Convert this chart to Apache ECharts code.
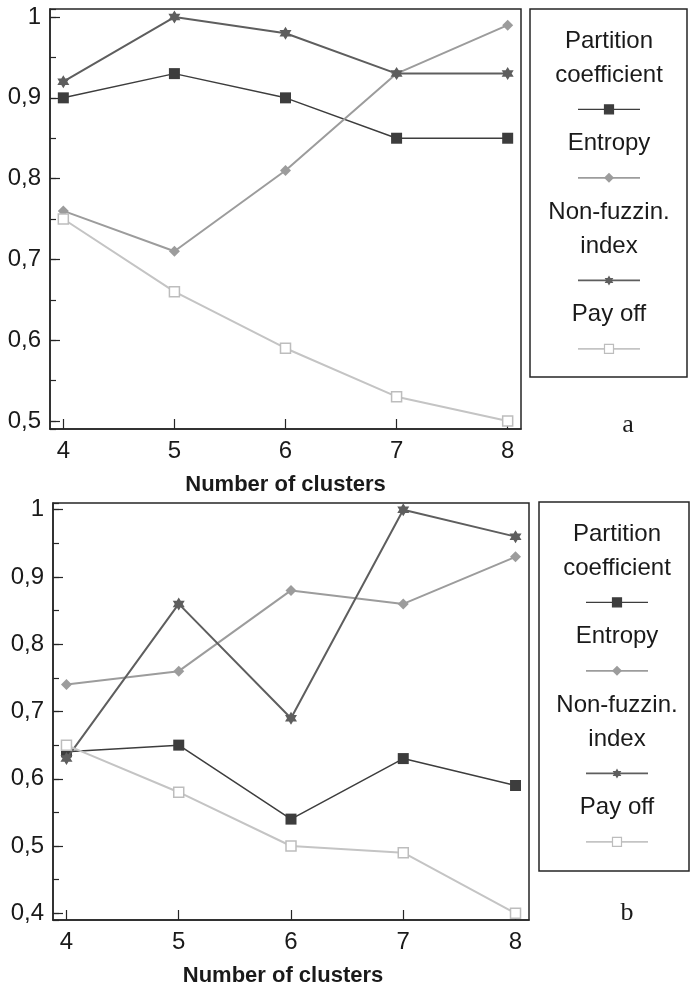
<!DOCTYPE html>
<html>
<head>
<meta charset="utf-8">
<script src="https://cdn.jsdelivr.net/npm/echarts@6/dist/echarts.min.js"></script>
<style>
  html, body { margin: 0; padding: 0; background: #fff; }
  #chart { width: 690px; height: 988px; }
</style>
</head>
<body>
<div id="chart"></div>
<script>
// Cluster counts on the x axis
const clusters = [4, 5, 6, 7, 8];

// Validity indices, panel a
const partitionA = [0.90, 0.93, 0.90, 0.85, 0.85];
const entropyA   = [0.76, 0.71, 0.81, 0.93, 0.99];
const nonFuzzA   = [0.92, 1.00, 0.98, 0.93, 0.93];
const payOffA    = [0.75, 0.66, 0.59, 0.53, 0.50];

// Validity indices, panel b
const partitionB = [0.64, 0.65, 0.54, 0.63, 0.59];
const entropyB   = [0.74, 0.76, 0.88, 0.86, 0.93];
const nonFuzzB   = [0.63, 0.86, 0.69, 1.00, 0.96];
const payOffB    = [0.65, 0.58, 0.50, 0.49, 0.40];

const seriesNames = ['Partition coefficient', 'Entropy', 'Non-fuzzin. index', 'Pay off'];
const legendLines = [['Partition', 'coefficient'], ['Entropy'], ['Non-fuzzin.', 'index'], ['Pay off']];
const panelLetters = ['a', 'b'];
const xTitle = 'Number of clusters';

const FONT = '"Liberation Sans", Arial, sans-serif';
const INK = '#1a1a1a';
const FRAME = '#262626';

// six-pointed star built from alternating outer/inner radii
function hexagramPoints(cx, cy, r) {
  const pts = [];
  for (let k = 0; k < 12; k++) {
    const a = (-90 + 30 * k) * Math.PI / 180;
    const rr = k % 2 ? r * 0.577 : r;
    pts.push([cx + rr * Math.cos(a), cy + rr * Math.sin(a)]);
  }
  return pts;
}
const STAR = 'path://' + hexagramPoints(0, 0, 1)
  .map((p, i) => (i ? 'L' : 'M') + p[0].toFixed(3) + ',' + p[1].toFixed(3)).join(' ') + ' Z';

const looks = [
  { symbol: 'rect',    size: 11,       line: '#3d3d3d', width: 1.5, fill: '#3d3d3d', stroke: '#3d3d3d' },
  { symbol: 'diamond', size: [11, 11], line: '#9c9c9c', width: 2,   fill: '#9c9c9c', stroke: '#9c9c9c' },
  { symbol: STAR,      size: [12, 13], line: '#5e5e5e', width: 2,   fill: '#5e5e5e', stroke: '#5e5e5e' },
  { symbol: 'rect',    size: 10,       line: '#c4c4c4', width: 2,   fill: '#ffffff', stroke: '#bdbdbd' }
];

const panels = [
  { values: [partitionA, entropyA, nonFuzzA, payOffA], grid: { left: 50, top: 9, width: 471, height: 420 },
    yMin: 0.49, yMax: 1.01, yMajorSplit: 5, yMinorSplit: 10,
    legendBox: { x: 530, y: 9, w: 157, h: 368, cx: 609 }, letter: { x: 628, y: 425 }, titleShift: 0 },
  { values: [partitionB, entropyB, nonFuzzB, payOffB], grid: { left: 53, top: 503, width: 476, height: 419 },
    yMin: 0.39, yMax: 1.01, yMajorSplit: 6, yMinorSplit: 12,
    legendBox: { x: 539, y: 502, w: 150, h: 369, cx: 617 }, letter: { x: 627, y: 913 }, titleShift: 16 }
];

function tickText(v) {
  if (Math.abs(v - 1) < 1e-9) return '1';
  return v.toFixed(1).replace('.', ',');
}

const grids = [], xAxes = [], yAxes = [], series = [], graphics = [];

panels.forEach((p, i) => {
  grids.push(Object.assign({ show: true, borderColor: FRAME, borderWidth: 1.5, backgroundColor: 'transparent' }, p.grid));

  xAxes.push({
    type: 'value', gridIndex: i, min: 3.88, max: 8.12, splitNumber: 4,
    splitLine: { show: false },
    axisLine: { onZero: false, lineStyle: { color: FRAME, width: 1.5 } },
    axisTick: { inside: true, length: 10, lineStyle: { color: FRAME, width: 1.2 } },
    axisLabel: { showMinLabel: false, showMaxLabel: false, margin: 10, fontSize: 24, color: INK, fontFamily: FONT,
                 formatter: v => String(Math.round(v)) },
    name: xTitle, nameLocation: 'middle', nameGap: 45,
    nameTextStyle: { fontSize: 22, fontWeight: 'bold', color: INK, fontFamily: FONT, padding: [0, p.titleShift, 0, 0] }
  });

  // major ticks with labels
  yAxes.push({
    type: 'value', gridIndex: i, position: 'left', min: p.yMin, max: p.yMax, splitNumber: p.yMajorSplit,
    splitLine: { show: false },
    axisLine: { show: true, onZero: false, lineStyle: { color: FRAME, width: 1.5 } },
    axisTick: { inside: true, length: 10, lineStyle: { color: FRAME, width: 1.2 } },
    axisLabel: { showMinLabel: false, showMaxLabel: false, margin: 9, fontSize: 24, color: INK, fontFamily: FONT,
                 formatter: tickText }
  });
  // half-step ticks
  yAxes.push({
    type: 'value', gridIndex: i, position: 'left', min: p.yMin, max: p.yMax, splitNumber: p.yMinorSplit,
    splitLine: { show: false },
    axisLine: { show: false },
    axisTick: { inside: true, length: 6, lineStyle: { color: FRAME, width: 1.2 } },
    axisLabel: { show: false }
  });

  p.values.forEach((vals, s) => {
    const lk = looks[s];
    series.push({
      type: 'line', name: seriesNames[s], xAxisIndex: i, yAxisIndex: 2 * i,
      data: clusters.map((c, k) => [c, vals[k]]),
      symbol: lk.symbol, symbolSize: lk.size, showAllSymbol: true,
      lineStyle: { color: lk.line, width: lk.width },
      itemStyle: { color: lk.fill, borderColor: lk.stroke, borderWidth: s === 3 ? 1.5 : 0 },
      emphasis: { disabled: true }, silent: true, animation: false, z: 2 + s
    });
  });

  // legend panel: names above a line sample with its marker
  const b = p.legendBox;
  graphics.push({ type: 'rect', shape: { x: b.x, y: b.y, width: b.w, height: b.h },
                  style: { fill: 'none', stroke: FRAME, lineWidth: 1.5 } });
  let row = 0;
  const rowY = r => b.y + 32 + 34.2 * r;
  legendLines.forEach((lines, s) => {
    lines.forEach(t => {
      graphics.push({ type: 'text', x: b.cx, y: rowY(row),
        style: { text: t, font: '24px ' + FONT, fill: INK, align: 'center', verticalAlign: 'middle',
                 textAlign: 'center', textVerticalAlign: 'middle' } });
      row++;
    });
    const y = rowY(row);
    const lk = looks[s];
    graphics.push({ type: 'line', shape: { x1: b.cx - 31, y1: y, x2: b.cx + 31, y2: y },
                    style: { stroke: lk.line, lineWidth: lk.width === 2 ? 1.8 : 1.4 } });
    if (s === 0 || s === 3) {
      graphics.push({ type: 'rect', shape: { x: b.cx - 4.5, y: y - 4.5, width: 9, height: 9 },
                      style: { fill: lk.fill, stroke: lk.stroke, lineWidth: 1.2 } });
    } else if (s === 1) {
      graphics.push({ type: 'polygon', shape: { points: [[b.cx, y - 5], [b.cx + 5, y], [b.cx, y + 5], [b.cx - 5, y]] },
                      style: { fill: lk.fill } });
    } else {
      graphics.push({ type: 'polygon', shape: { points: hexagramPoints(b.cx, y, 5) }, style: { fill: lk.fill } });
    }
    row++;
  });

  graphics.push({ type: 'text', x: p.letter.x, y: p.letter.y,
    style: { text: panelLetters[i], font: '26px "Liberation Serif", "Times New Roman", serif', fill: INK,
             align: 'center', verticalAlign: 'middle', textAlign: 'center', textVerticalAlign: 'middle' } });
});

const chart = echarts.init(document.getElementById('chart'), null, { renderer: 'canvas' });
chart.setOption({
  animation: false,
  backgroundColor: '#ffffff',
  grid: grids,
  xAxis: xAxes,
  yAxis: yAxes,
  series: series,
  graphic: graphics
});
</script>
</body>
</html>
